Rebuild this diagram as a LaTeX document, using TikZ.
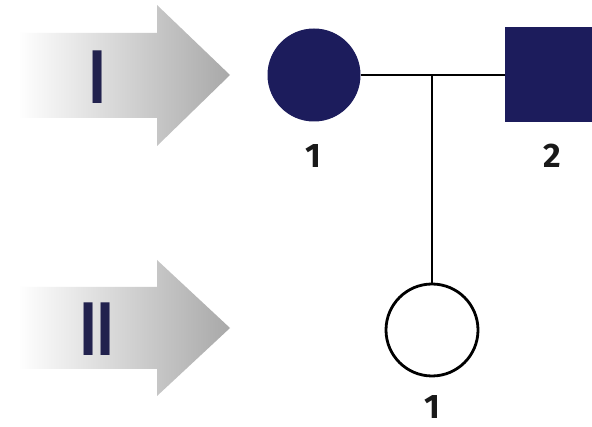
\documentclass[tikz,border=0pt]{standalone}
\usepackage{fontspec}
\setmainfont{Fira Sans}
\definecolor{navy}{HTML}{1C1C5C}
\definecolor{numcol}{HTML}{22224E}
\begin{document}
\begin{tikzpicture}[x=1pt,y=-1pt,
  genarrow/.style={left color=white, right color=black!34, draw=none},
  affected/.style={fill=navy, draw=navy, line width=1pt, inner sep=0pt},
  female/.style={circle, minimum size=92pt},
  male/.style={rectangle, minimum width=94pt, minimum height=94pt},
  openfemale/.style={circle, minimum size=92pt, draw=black, line width=2.8pt, fill=white, inner sep=0pt},
  idlabel/.style={font=\bfseries\fontsize{34}{34}\selectfont, text=black!90, inner sep=0pt},
  roman/.style={font=\bfseries\fontsize{76}{76}\selectfont, text=numcol, inner sep=0pt},
  link/.style={line width=1.5pt, draw=black}]
\useasboundingbox (0,0) rectangle (592,427);
\fill[white] (0,0) rectangle (592,427);
% generation arrows
\path[genarrow] (18,33) -- (157,33) -- (157,5) -- (230,75) -- (157,146) -- (157,118) -- (18,118) -- cycle;
\path[genarrow] (18,287) -- (157,287) -- (157,260) -- (230,328) -- (157,396) -- (157,369) -- (18,369) -- cycle;
\node[roman] (genI) at (98,77) {\scalebox{0.72}[1]{I}};
\node[roman] (genII) at (97,329) {\scalebox{0.72}[1]{II}};
% individuals
\node[affected, female] (i1) at (314,75) {};
\node[affected, male] (i2) at (552,75) {};
\node[openfemale] (ii1) at (432,330) {};
\coordinate (mid) at (432,75);
\draw[link] (i1.east) -- (i2.west);
\draw[link] (mid) -- (ii1.north);
% labels
\node[idlabel] (li1) at (313,156) {1};
\node[idlabel] (li2) at (552,156) {2};
\node[idlabel] (lii1) at (432,407) {1};
\end{tikzpicture}
\end{document}
